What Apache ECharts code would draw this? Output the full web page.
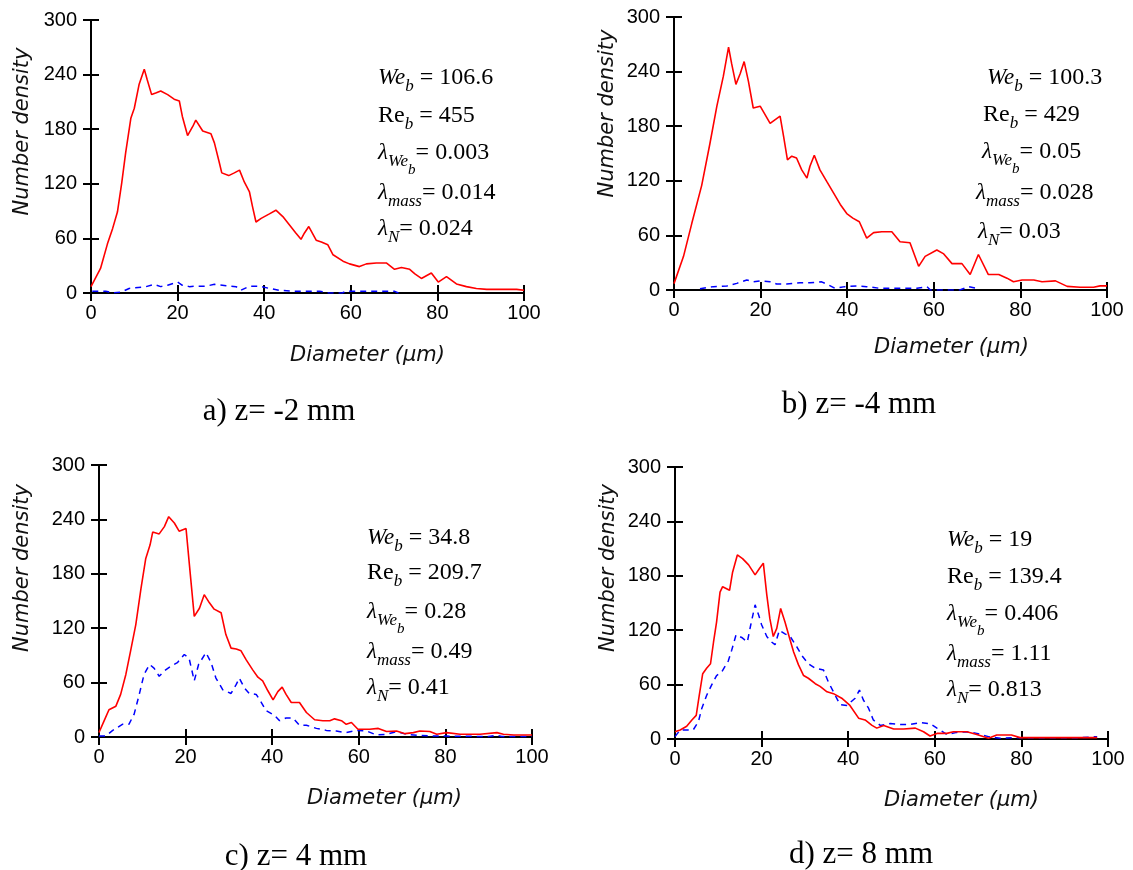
<!DOCTYPE html>
<html><head><meta charset="utf-8">
<script src="https://cdn.jsdelivr.net/npm/echarts@6/dist/echarts.min.js"></script>
<style>html,body{margin:0;padding:0;background:#fff}#c{width:1133px;height:870px}</style>
</head><body><div id="c"></div>
<script>
// ---- data ----
const xTicks = [0, 20, 40, 60, 80, 100];
const yTicks = [0, 60, 120, 180, 240, 300];
const captions = ['a) z= -2 mm', 'b) z= -4 mm', 'c) z= 4 mm', 'd) z= 8 mm'];
const xName = 'Diameter (\u00b5m)';
const yName = 'Number density';

const aParams = ['106.6', '455', '0.003', '0.014', '0.024'];
const bParams = ['100.3', '429', '0.05', '0.028', '0.03'];
const cParams = ['34.8', '209.7', '0.28', '0.49', '0.41'];
const dParams = ['19', '139.4', '0.406', '1.11', '0.813'];

const aRed = [[0,7],[2.2,27],[3.8,54],[5,71],[6.1,89],[7.1,121],[8,154],[9.2,192],[10,203],[11.1,229],[12.3,246],[13,234],[14,218],[15.1,220],[16.1,222],[17.7,218],[19.2,213],[20.4,211],[21.1,194],[22.3,173],[23.5,183],[24.2,190],[25.8,178],[27.7,175],[28.5,165],[29.6,144],[30.2,132],[31.8,129],[33.1,132],[34.3,135],[35.4,122],[36.6,111],[37.3,95],[38.1,78],[39.3,82],[41.2,87],[42.7,91],[44.3,84],[45.8,75],[47.3,66],[48.5,59],[49.3,66],[50.3,73],[52,58],[53.2,56],[54.7,53],[55.9,42],[58.2,35],[59.7,32],[62,29],[63.6,32],[65.9,33],[68.2,33],[70.1,26],[71.7,28],[73.6,26],[74.8,21],[76.3,16],[78.6,22],[80.2,12],[82.1,18],[84.4,10],[86.7,7],[89,5],[91.4,4],[93.7,4],[96,4],[98.3,4],[100,3]];
const aBlue = [[0.3,2],[3.4,2],[5,0],[7,1],[8.8,5],[12.7,7],[14.6,9.5],[16.1,7],[17.7,8.5],[20,12],[21.1,8.5],[22.7,7],[24.2,7.5],[26.5,7.5],[28.5,9.5],[31.2,8],[33.5,7],[34.6,3],[36.6,7.5],[38.9,7.5],[41.2,5],[43.5,3],[46.6,2],[52.8,2],[55,0],[58,0],[59,2],[70,2],[71,0]];

const bRed = [[0,7],[2.2,37],[4.1,73],[6.4,115],[8.3,161],[9.9,202],[11.4,235],[12.6,267],[13.3,249],[14.3,226],[15.3,238],[16.2,251],[17.2,229],[18.3,200],[19.9,202],[21,193],[22.2,183],[23.3,187],[24.5,191],[25.3,169],[26.2,143],[27.2,147],[28.3,145],[29.5,132],[30.7,123],[31.4,136],[32.4,148],[33.7,132],[35.3,119],[36.8,107],[38.4,94],[39.9,84],[41.3,79],[42.8,75],[44.5,57],[46.1,63],[48,64],[50.3,64],[52.2,53],[54.5,52],[56.5,26],[58,37],[60.7,44],[62.2,40],[64.2,29],[66.5,29],[68.4,17],[70.3,39],[72.6,17],[75,17],[76.9,13],[78.4,9],[80.4,11],[83.1,11],[85,9],[88.1,10],[90.8,4],[93.8,3],[96.9,3],[98.4,4.5],[100,4.5]];
const bBlue = [[6,1.5],[9.1,3.7],[12.2,4.4],[14.5,7.3],[16.8,11],[18.3,9],[19.9,10],[22.2,9],[23.7,6.6],[26,6.6],[29.1,8],[31.4,8],[34.1,9],[35.7,5.5],[37.2,1.8],[39.5,3.7],[42.2,4.4],[44.5,3.7],[47.6,1.8],[56.1,1.8],[58.4,3.7],[59.2,0],[66,0],[68,3.7],[69.6,2],[70.5,0]];

const cRed = [[0,5],[1.2,18],[2.3,30],[3.9,34],[5,47],[6.2,69],[7.3,95],[8.5,124],[9.7,164],[10.8,197],[11.8,212],[12.4,226],[13.9,224],[15.1,232],[16.1,243],[17.4,236],[18.5,227],[20.1,230],[20.8,194],[22,133],[23.2,142],[24.3,157],[25.5,148],[26.6,141],[28.2,137],[29.3,113],[30.5,98],[31.7,97],[32.8,95],[34,85],[35.5,74],[36.7,66],[37.8,62],[39,51],[40.2,41],[41.3,50],[42.3,55],[43.2,47],[44.4,38],[46.3,38],[47.9,27],[49.8,19],[51.7,18],[53.3,18],[54.4,20],[56,18],[57.1,14],[58.3,16],[59.8,8.5],[62.5,8.5],[64.5,9.5],[66.4,6],[68.7,6.6],[70.7,3.7],[72.6,4.8],[74.1,6.6],[76.4,6],[78,3],[80.3,4.8],[83.4,3],[88,3],[91.9,4.8],[93.4,3],[95.8,2.2],[100,2.2]];
const cBlue = [[0,1],[1.5,1],[3.1,7],[5.4,14],[6.9,14],[8.1,25],[9.3,47],[10.4,69],[11.7,80],[12.7,76],[13.9,67],[15.1,73],[16.6,78],[18.1,82],[19.7,91],[20.8,87],[22,62],[23,80],[24.7,93],[25.9,82],[27,65],[28.6,52],[30.5,48],[31.7,58],[32.4,65],[33.6,54],[34.7,48],[36.3,47],[37.5,38],[38.6,29],[40.5,24],[41.7,18],[43.2,21],[44.8,21],[46.3,13],[47.9,13],[50.2,9.5],[52.5,7.3],[54.8,6.6],[57.1,4.8],[59.5,7.3],[61.8,6.6],[64.1,2.2],[66.4,3],[68.7,6],[71,3],[73.4,2],[77.2,1],[80.3,1],[90,0.5],[91.9,2],[93,0.5],[100,0.5]];

const dRed = [[0,8],[1.2,10],[2.7,14],[3.9,21],[4.9,26],[5.6,48],[6.4,72],[7.3,78],[8.2,83],[8.9,107],[9.6,129],[10.4,162],[11,168],[11.8,166],[12.6,164],[13.3,184],[14.4,203],[15.6,199],[17,192],[18.5,181],[19.5,188],[20.4,194],[21.2,159],[21.9,133],[22.7,113],[23.5,122],[24.4,144],[25.4,129],[26.6,109],[27.4,96],[28.5,82],[29.7,70],[30.8,67],[32.4,61],[33.5,58],[35.1,52],[36.6,50],[38.5,45],[40.4,37],[42.4,23],[43.9,21],[45.5,15],[46.6,12],[48.2,15],[50.5,11],[52.8,11],[55.5,12],[57.4,8],[58.9,3.3],[60.5,6.2],[62.8,6.2],[64.3,8],[67.4,8],[69.7,5],[72.4,0.7],[74.3,4.4],[77.7,4.4],[79.7,1.5],[85.9,1.5],[92,1.5],[97.5,1.5]];
const dBlue = [[0,2.6],[1.2,10],[2.7,10],[4.2,10],[5.4,19],[6.2,34],[7.3,48],[8.5,60],[9.6,70],[10.8,74],[12.3,86],[13.1,98],[14.1,115],[15.4,112],[16.7,107],[17.5,126],[18.5,148],[19.3,137],[20,126],[21.2,113],[22.3,107],[23.1,104],[24.1,120],[25.4,116],[26.6,113],[28.1,102],[29.3,92],[30.8,83],[32.4,78],[34.3,76],[35.4,63],[36.6,52],[38.1,38],[39.7,37],[41.6,45],[42.6,54],[43.5,43],[44.7,34],[45.8,21],[47.4,15],[49.7,17],[52,16],[54.3,16],[56.6,18],[58.9,17],[60.5,12],[62.8,5],[65.1,7.3],[67.4,8],[69.7,6.2],[72.4,2.6],[75.1,0.7],[78.2,1.5],[82.8,1.5],[89,1.5],[93.6,1.5],[97.5,2.6]];

// ---- layout ----
const panels = [
  {grid:{left:91,top:20,width:433,height:273}, red:aRed, blue:aBlue, params:aParams,
   cap:[279,412], xShift:60, xGap:52, yShift:25, yGap:58,
   tx:[378,378,378,378,378], ty:[78,116,153,193,229]},
  {grid:{left:674,top:17,width:433,height:273}, red:bRed, blue:bBlue, params:bParams,
   cap:[859,405], xShift:61, xGap:47, yShift:40, yGap:56,
   tx:[987,983,982,976,978], ty:[78,115,152,193,232]},
  {grid:{left:99,top:465,width:433,height:272}, red:cRed, blue:cBlue, params:cParams,
   cap:[296,857], xShift:69, xGap:51, yShift:33, yGap:66,
   tx:[367,367,367,367,367], ty:[538,573,612,652,688]},
  {grid:{left:675,top:467,width:433,height:272}, red:dRed, blue:dBlue, params:dParams,
   cap:[861,855], xShift:70, xGap:51, yShift:35, yGap:56,
   tx:[947,947,947,947,947], ty:[540,577,614,654,690]}
];

const LH = 40;
const rich = {
  n: {fontFamily:'Liberation Serif', fontSize:24, lineHeight:LH, color:'#000'},
  i: {fontFamily:'Liberation Serif', fontStyle:'italic', fontSize:23, lineHeight:LH, color:'#000'},
  s: {fontFamily:'Liberation Serif', fontStyle:'italic', fontSize:17, lineHeight:LH, padding:[18,0,0,0], color:'#000'},
  ss:{fontFamily:'Liberation Serif', fontStyle:'italic', fontSize:15, lineHeight:LH, padding:[34,0,0,0], color:'#000'}
};
function lines(p){
  return [
    '{i|We}{s|b}{n| = ' + p[0] + '}',
    '{n|Re}{s|b}{n| = ' + p[1] + '}',
    '{i|\u03bb}{s|We}{ss|b}{n|= ' + p[2] + '}',
    '{i|\u03bb}{s|mass}{n|= ' + p[3] + '}',
    '{i|\u03bb}{s|N}{n|= ' + p[4] + '}'
  ];
}

const grids = [], xAxes = [], yAxes = [], series = [], graphics = [];
const axisCommon = {
  axisLine:{show:true, onZero:false, lineStyle:{color:'#000', width:2}},
  splitLine:{show:false}
};
panels.forEach((P, k) => {
  grids.push(Object.assign({containLabel:false}, P.grid));
  const xmin = xTicks[0], xmax = xTicks[xTicks.length-1], xint = xTicks[1]-xTicks[0];
  const ymin = yTicks[0], ymax = yTicks[yTicks.length-1], yint = yTicks[1]-yTicks[0];
  xAxes.push(Object.assign({}, axisCommon, {
    type:'value', gridIndex:k, position:'bottom', min:xmin, max:xmax, interval:xint,
    axisTick:{show:true, inside:false, length:8, lineStyle:{color:'#000', width:2}},
    axisLabel:{fontFamily:'Liberation Sans', fontSize:20, color:'#000', margin:10},
    name:xName, nameLocation:'middle', nameGap:P.xGap,
    nameTextStyle:{fontFamily:'DejaVu Sans', fontStyle:'italic', fontSize:21, color:'#111', padding:[0,0,0,2*P.xShift]}
  }));
  xAxes.push({
    type:'value', gridIndex:k, position:'bottom', min:xmin, max:xmax, interval:xint,
    axisLine:{show:false}, axisLabel:{show:false}, splitLine:{show:false},
    axisTick:{show:true, inside:true, length:8, lineStyle:{color:'#000', width:2}}
  });
  yAxes.push(Object.assign({}, axisCommon, {
    type:'value', gridIndex:k, position:'left', min:ymin, max:ymax, interval:yint,
    axisTick:{show:true, inside:false, length:8, lineStyle:{color:'#000', width:2}},
    axisLabel:{fontFamily:'Liberation Sans', fontSize:20, color:'#000', margin:14},
    name:yName, nameLocation:'middle', nameGap:P.yGap,
    nameTextStyle:{fontFamily:'DejaVu Sans', fontStyle:'italic', fontSize:21, color:'#111', padding:[0,0,0,2*P.yShift]}
  }));
  yAxes.push({
    type:'value', gridIndex:k, position:'left', min:ymin, max:ymax, interval:yint,
    axisLine:{show:false}, axisLabel:{show:false}, splitLine:{show:false},
    axisTick:{show:true, inside:true, length:8, lineStyle:{color:'#000', width:2}}
  });
  series.push({
    type:'line', xAxisIndex:2*k, yAxisIndex:2*k, data:P.blue, showSymbol:false, symbol:'none',
    lineStyle:{color:'#0000ff', width:1.5, type:[6,5]}, z:2
  });
  series.push({
    type:'line', xAxisIndex:2*k, yAxisIndex:2*k, data:P.red, showSymbol:false, symbol:'none',
    lineStyle:{color:'#ff0000', width:1.6}, z:3
  });
  lines(P.params).forEach((t, j) => {
    graphics.push({type:'text', x:P.tx[j], y:P.ty[j],
      style:{text:t, rich:rich, align:'left', verticalAlign:'middle', textAlign:'left', textVerticalAlign:'middle'}});
  });
  graphics.push({type:'text', x:P.cap[0], y:P.cap[1],
    style:{text:captions[k], fill:'#000', font:'31px "Liberation Serif"', align:'center', verticalAlign:'middle', textAlign:'center', textVerticalAlign:'middle'}});
});

const chart = echarts.init(document.getElementById('c'), null, {renderer:'canvas'});
chart.setOption({
  animation:false,
  backgroundColor:'#fff',
  grid:grids, xAxis:xAxes, yAxis:yAxes, series:series, graphic:graphics
});
</script></body></html>
